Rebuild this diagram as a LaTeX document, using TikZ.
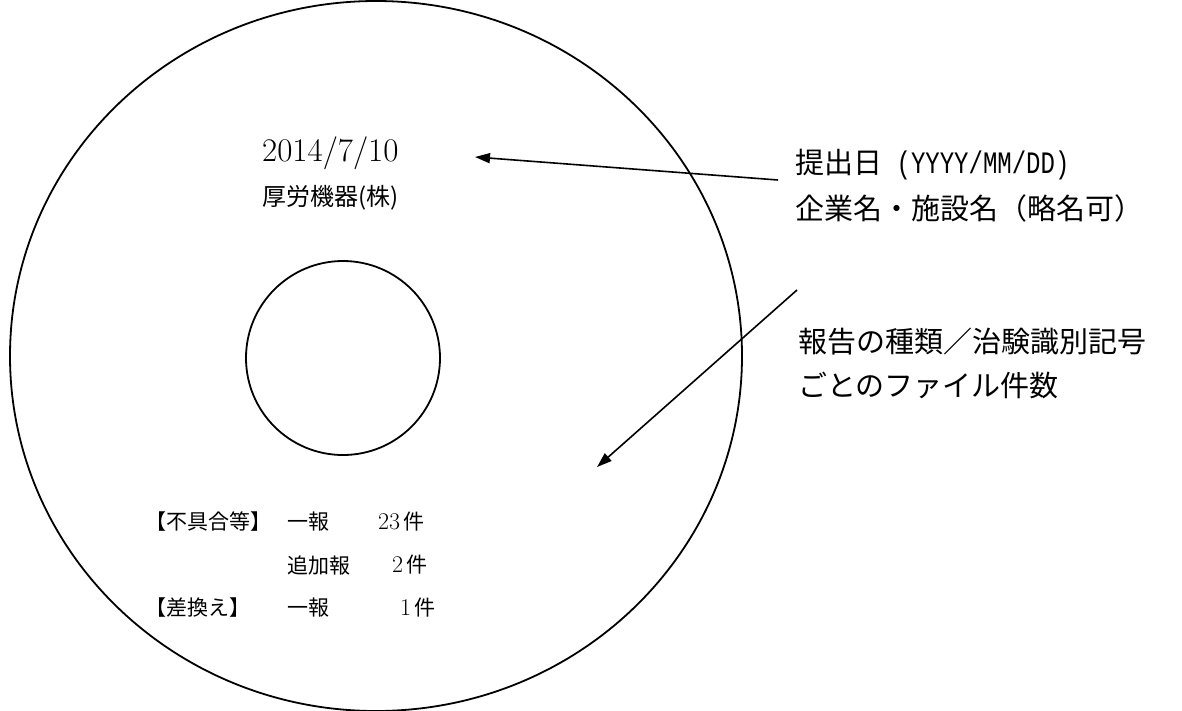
\documentclass[tikz,border=0pt]{standalone}
\usepackage{fontspec}
\newfontfamily\jp{Noto Sans CJK JP}
\newfontfamily\jpmono{Liberation Mono}
\newfontfamily\lmr{Latin Modern Roman}
\usetikzlibrary{arrows.meta}
\tikzset{
  disc/.style={line width=1.8pt},
  pointer/.style={line width=1.6pt,-{Triangle[length=15pt,width=10pt]}},
  lbl/.style={anchor=west,inner sep=0pt},
  big/.style={lbl,font=\jp\fontsize{29}{34}\selectfont},
  mid/.style={lbl,font=\jp\fontsize{24}{28}\selectfont},
  small/.style={lbl,font=\jp\fontsize{21}{25}\selectfont},
}
\newcommand{\halfw}[1]{\scalebox{1}[1.3]{\jpmono\fontsize{24}{28}\selectfont #1}}
\newcommand{\num}[1]{{\lmr\fontsize{24}{28}\selectfont #1}}
\begin{document}
\begin{tikzpicture}[x=1pt,y=-1pt]
\useasboundingbox[fill=white] (0,0) rectangle (1182,710);
% disc
\draw[disc] (376,356) ellipse [x radius=366, y radius=355];
\draw[disc] (343,358) circle [radius=97];
% label on disc
\node[lbl,font=\lmr\fontsize{33}{38}\selectfont] (date) at (262,153) {2014/7/10};
\node[mid] (co) at (262,198) {厚労機器(株)};
% right texts
\node[big] (r1) at (795,165) {提出日\halfw{ (YYYY/MM/DD)}};
\node[big] (r2) at (795,208) {企業名・施設名（略名可）};
\node[big] (r3) at (798,342) {報告の種類／治験識別記号};
\node[big] (r4) at (798,385) {ごとのファイル件数};
% lower-left table
\node[small] (t1) at (145,522) {【不具合等】};
\node[small] (t2) at (287,522) {一報};
\node[small] (t3) at (378,522) {\num{23}\,件};
\node[small] (t4) at (287,565) {追加報};
\node[small] (t5) at (392,565) {\num{2}\,件};
\node[small] (t6) at (145,608) {【差換え】};
\node[small] (t7) at (287,608) {一報};
\node[small] (t8) at (400,608) {\num{1}\,件};
% arrows
\coordinate (p1) at (778,180);
\coordinate (q1) at (475,157);
\coordinate (p2) at (797,290);
\coordinate (q2) at (597,467);
\draw[pointer] (p1) -- (q1);
\draw[pointer] (p2) -- (q2);
\end{tikzpicture}
\end{document}
